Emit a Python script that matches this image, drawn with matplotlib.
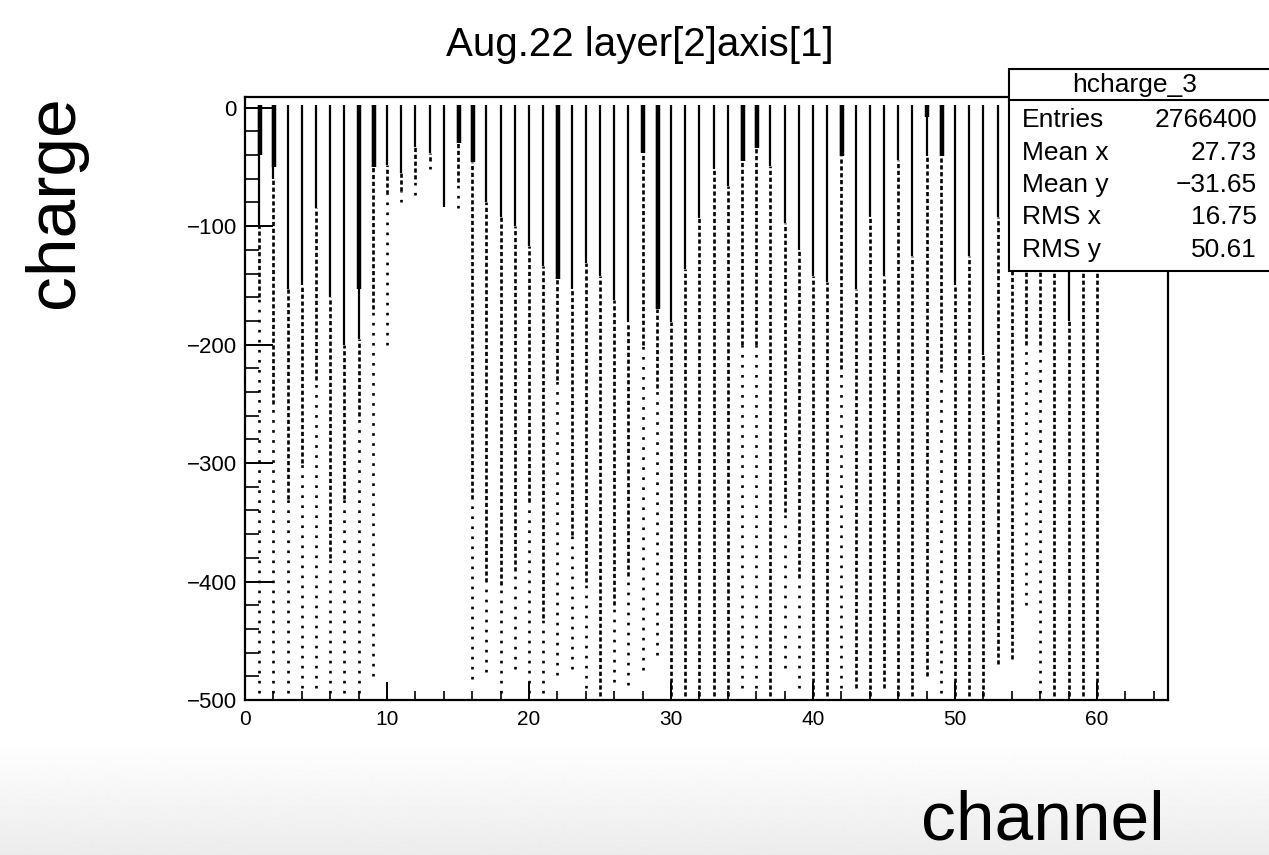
import numpy as np
import matplotlib
matplotlib.use("Agg")
import matplotlib.pyplot as plt
from matplotlib.patches import Rectangle
from matplotlib.lines import Line2D
from matplotlib.ticker import MultipleLocator

plt.rcParams['font.family'] = ['Liberation Sans', 'DejaVu Sans']

# ---------------- data ----------------
channels = list(range(1, 61))
# value down to which the column is drawn extra thick (0 = none)
heavy_end = [-40, -50, 0, 0, 0, 0, 0, -153, -50, 0,
             0, 0, 0, 0, -30, -46, 0, 0, 0, 0,
             0, -145, 0, 0, 0, 0, 0, -38, -170, 0,
             0, 0, 0, 0, -45, -34, 0, 0, 0, 0,
             0, -41, 0, 0, 0, 0, 0, -8, -41, 0,
             0, 0, 0, 0, 0, 0, 0, 0, 0, 0]
# value down to which the column is a continuous line
solid_end = [-100, -60, -153, -150, -85, -160, -200, -195, -50, -48,
             -55, -33, -38, -84, -30, -46, -80, -92, -100, -117,
             -134, -145, -153, -131, -142, -162, -181, -38, -170, -181,
             -136, -93, -52, -66, -45, -34, -49, -97, -120, -142,
             -147, -41, -153, -92, -142, -44, -125, -41, -41, -150,
             -125, -209, -92, -60, -40, -40, -100, -180, -100, -60]
# value down to which the dots are dense
dense_end = [-160, -250, -330, -300, -230, -380, -330, -260, -170, -73,
             -70, -60, -45, -84, -63, -330, -400, -403, -391, -333,
             -431, -230, -361, -400, -497, -420, -395, -200, -237, -497,
             -497, -497, -497, -497, -200, -200, -497, -341, -397, -497,
             -497, -221, -490, -497, -490, -497, -497, -480, -220, -497,
             -497, -497, -470, -465, -200, -200, -497, -497, -497, -497]
# lowest entry of each channel
min_charge = [-494, -494, -494, -490, -490, -494, -494, -494, -480, -200,
              -80, -74, -52, -84, -85, -482, -476, -494, -474, -494,
              -494, -479, -474, -490, -497, -485, -487, -475, -462, -497,
              -497, -497, -497, -497, -490, -490, -497, -473, -490, -497,
              -497, -490, -490, -497, -490, -497, -497, -480, -494, -497,
              -497, -497, -470, -465, -420, -494, -497, -497, -497, -497]
col_top = 2

title = "Aug.22 layer[2]axis[1]"
stats_name = "hcharge_3"
stats_labels = ["Entries", "Mean x", "Mean y", "RMS x", "RMS y"]
stats_values = ["2766400", "27.73", "\u221231.65", "16.75", "50.61"]

W, H = 1269, 855
fig = plt.figure(figsize=(W / 100, H / 100), dpi=100)

# light grey gradient at the bottom of the screenshot
bg = fig.add_axes([0, 0, 1, 1], zorder=-10)
rows = np.ones(H)
ramp = np.arange(H) >= 740
rows[ramp] = 1 - 0.075 * (np.arange(H)[ramp] - 740) / (H - 740)
bg.imshow(np.repeat(rows[:, None], 2, axis=1), cmap='gray', vmin=0, vmax=1,
          aspect='auto', extent=[0, 1, 0, 1], interpolation='bilinear')
bg.axis('off')


def px(x, y):
    return x / W, 1 - y / H


x0, x1, y0, y1 = 245, 1168, 97, 700
ax = fig.add_axes([x0 / W, 1 - y1 / H, (x1 - x0) / W, (y1 - y0) / H])
ax.set_xlim(0, 65)
ax.set_ylim(-500, 9)

ch = np.array(channels, dtype=float)
he = np.array(heavy_end, dtype=float)
se = np.array(solid_end, dtype=float)
de = np.array(dense_end, dtype=float)
mn = np.array(min_charge, dtype=float)

m = mn < de
ax.vlines(ch[m], mn[m], de[m], colors='black', linewidth=1.9,
          linestyles=[(0, (1, 2.8))], capstyle='butt')
m = de < se
ax.vlines(ch[m], de[m], se[m], colors='black', linewidth=1.9,
          linestyles=[(0, (1.6, 1.0))], capstyle='butt')
ax.vlines(ch, se, col_top, colors='black', linewidth=1.6, capstyle='butt')
m = he < 0
ax.vlines(ch[m] + 0.05, he[m], col_top, colors='black', linewidth=3.2,
          capstyle='butt')

for s in ax.spines.values():
    s.set_linewidth(1.6)

ax.xaxis.set_major_locator(MultipleLocator(10))
ax.xaxis.set_minor_locator(MultipleLocator(2))
ax.yaxis.set_major_locator(MultipleLocator(100))
ax.yaxis.set_minor_locator(MultipleLocator(20))
ax.tick_params(axis='x', which='major', direction='in', length=13, width=1.4,
               labelsize=15, pad=7)
ax.tick_params(axis='x', which='minor', direction='in', length=6.5, width=1.2)
ax.tick_params(axis='y', which='major', direction='in', length=20, width=1.4,
               labelsize=16, pad=6)
ax.tick_params(axis='y', which='minor', direction='in', length=10, width=1.2)
ax.set_yticklabels([("\u2212%d" % -v if v < 0 else "%d" % v)
                    for v in ax.get_yticks()])

fig.text(*px(640, 56), title, ha='center', va='baseline', fontsize=29)
fig.text(*px(55, 202), "charge", rotation=90, ha='center', va='center',
         fontsize=50)
fig.text(*px(1165, 839), "channel", ha='right', va='baseline', fontsize=50)

# statistics box
bl = px(1009, 271)
tr = px(1275, 69)
fig.patches.append(Rectangle(bl, tr[0] - bl[0], tr[1] - bl[1],
                             transform=fig.transFigure, facecolor='white',
                             edgecolor='black', linewidth=1.5, zorder=20))
fig.lines.append(Line2D([px(1009, 0)[0], 1], [px(0, 100)[1]] * 2,
                        transform=fig.transFigure, color='black',
                        linewidth=1.5, zorder=21))
fig.text(*px(1135, 85), stats_name, ha='center', va='center', fontsize=19,
         zorder=22)
for i, (lab, val) in enumerate(zip(stats_labels, stats_values)):
    yy = 120 + i * 32.5
    fig.text(*px(1022, yy), lab, ha='left', va='center', fontsize=19,
             zorder=22)
    fig.text(*px(1257, yy), val, ha='right', va='center', fontsize=19,
             zorder=22)

fig.savefig("out.png", dpi=100)
